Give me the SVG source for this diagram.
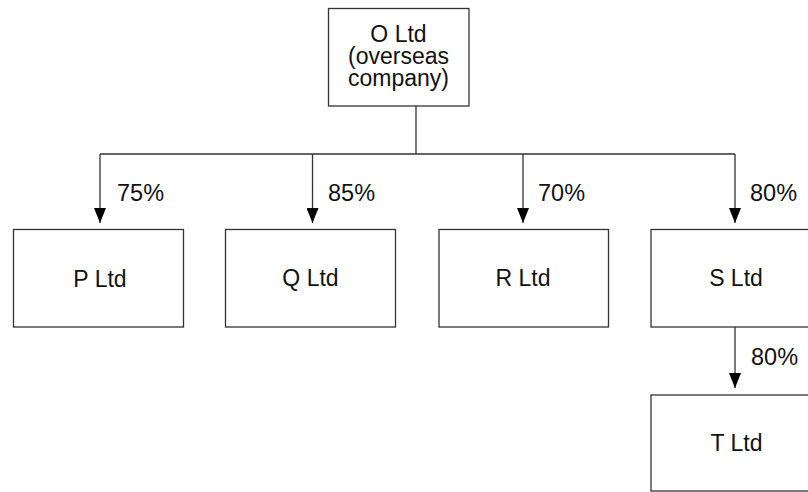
<svg xmlns="http://www.w3.org/2000/svg" width="808" height="492" viewBox="0 0 808 492">
<defs>
<marker id="ah" markerUnits="userSpaceOnUse" markerWidth="16" markerHeight="12" refX="15" refY="6" orient="auto">
<path d="M0,0 L15,6 L0,12 Z" fill="#000"/>
</marker>
<style>
.box{fill:#fff;stroke:#333;stroke-width:1.3}
.ln{fill:none;stroke:#333;stroke-width:1.3}
text{font-family:"Liberation Sans",Arial,sans-serif;font-size:23px;fill:#111}
.c{text-anchor:middle}
.pc{font-size:23.5px}
</style>
</defs>
<rect width="808" height="492" fill="#fff"/>
<g id="connectors">
<path class="ln" d="M416,106 V154 M100,154 H735"/>
<line class="ln" x1="100" y1="154" x2="100" y2="223" marker-end="url(#ah)"/>
<line class="ln" x1="312.5" y1="154" x2="312.5" y2="223" marker-end="url(#ah)"/>
<line class="ln" x1="523" y1="154" x2="523" y2="223" marker-end="url(#ah)"/>
<line class="ln" x1="735" y1="154" x2="735" y2="223" marker-end="url(#ah)"/>
<line class="ln" x1="735" y1="327" x2="735" y2="388" marker-end="url(#ah)"/>
<text class="pc" x="117" y="201">75%</text>
<text class="pc" x="328" y="200.5">85%</text>
<text class="pc" x="538" y="200.5">70%</text>
<text class="pc" x="750" y="200.5">80%</text>
<text class="pc" x="751" y="365">80%</text>
</g>
<g id="O">
<rect class="box" x="328.5" y="8.5" width="140.5" height="97.5"/>
<text class="c" x="398.5" y="41.5">O Ltd<tspan x="398.5" dy="22.5">(overseas</tspan><tspan x="398.5" dy="22">company)</tspan></text>
</g>
<g id="P">
<rect class="box" x="13.5" y="229.5" width="170" height="97.5"/>
<text class="c" x="100" y="286.5">P Ltd</text>
</g>
<g id="Q">
<rect class="box" x="225.5" y="229.5" width="170" height="97.5"/>
<text class="c" x="310.5" y="286">Q Ltd</text>
</g>
<g id="R">
<rect class="box" x="439" y="229.5" width="169.5" height="97.5"/>
<text class="c" x="523" y="286">R Ltd</text>
</g>
<g id="S">
<rect class="box" x="651" y="229.5" width="170" height="97.5"/>
<text class="c" x="736" y="286">S Ltd</text>
</g>
<g id="T">
<rect class="box" x="651" y="395" width="170" height="96"/>
<text class="c" x="736.5" y="451">T Ltd</text>
</g>
</svg>
